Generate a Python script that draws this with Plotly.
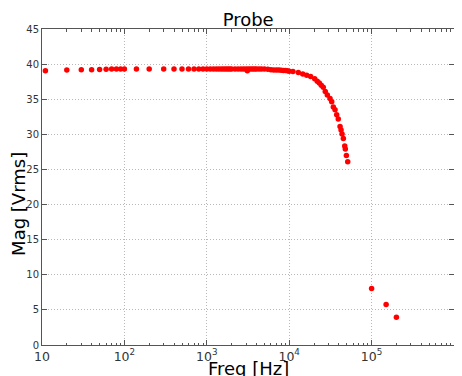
import plotly.graph_objects as go

freq_hz = [11, 20, 30, 40, 50, 60, 70, 80, 90, 100, 140, 200, 300, 400, 500, 600, 700, 800, 900,
           1000, 1100, 1200, 1300, 1400, 1500, 1600, 1700, 1800, 1900, 2000, 2200, 2400, 2600, 2800,
           3000, 3100, 3200, 3400, 3600, 3800, 4000, 4300, 4600, 5000, 5500, 6000, 6500, 7000, 7500,
           8000, 8500, 9000, 9500, 10000,
           11100, 12900, 14600, 16300, 18200, 20400, 21900, 23200, 24500, 25900, 27400, 29000,
           31300, 32800, 34300, 36000, 37700, 39400, 41400, 42600, 43800, 45400, 47200, 48000,
           49400, 51300,
           100000, 150000, 200000]
mag_vrms = [39.05, 39.15, 39.2, 39.2, 39.22, 39.28, 39.3, 39.3, 39.3, 39.3, 39.3, 39.3, 39.3, 39.3, 39.3, 39.3, 39.3, 39.3, 39.3,
            39.3, 39.3, 39.3, 39.3, 39.3, 39.3, 39.3, 39.3, 39.3, 39.3, 39.3, 39.3, 39.3, 39.3, 39.3,
            39.3, 39.05, 39.3, 39.3, 39.3, 39.3, 39.3, 39.3, 39.3, 39.3, 39.28, 39.2, 39.15, 39.15, 39.15,
            39.12, 39.1, 39.1, 39.05, 39.0,
            38.95, 38.8, 38.6, 38.4, 38.25, 37.9, 37.55, 37.3, 37.0, 36.7, 36.1, 35.6,
            35.1, 34.65, 33.9, 33.5, 32.8, 32.2, 31.1, 30.6, 30.05, 29.4, 28.35, 27.9,
            27.0, 26.1,
            8.05, 5.75, 3.95]

y_ticks = [0, 5, 10, 15, 20, 25, 30, 35, 40, 45]

fig = go.Figure()
fig.add_trace(go.Scatter(
    x=freq_hz, y=mag_vrms, mode="markers",
    marker=dict(color="#ff0000", size=5.5, line=dict(width=0)),
    showlegend=False, cliponaxis=False,
))

axis_common = dict(
    showline=True, linecolor="#555555", linewidth=1, mirror="ticks",
    ticks="inside", ticklen=5, tickcolor="#555555", tickwidth=1,
    showgrid=True, gridcolor="#b8b8b8", griddash="1px,2px", gridwidth=1,
    zeroline=False, automargin=False,
    tickfont=dict(family="DejaVu Sans", size=10, color="#333333"),
)

fig.update_xaxes(
    type="log", range=[1, 6], dtick=1, exponentformat="power",
    minor=dict(ticks="inside", ticklen=2.5, tickcolor="#555555", showgrid=False),
    **axis_common,
)
fig.update_yaxes(range=[0, 45], tickvals=y_ticks, **axis_common)

label_font = dict(family="DejaVu Sans", size=18, color="#000000")
fig.add_annotation(text="Freq [Hz]", xref="paper", yref="paper", x=0.5, y=-0.035,
                   xanchor="center", yanchor="top", showarrow=False, font=label_font)
fig.add_annotation(text="Mag [Vrms]", xref="paper", yref="paper", x=-0.057, y=0.445,
                   xanchor="center", yanchor="middle", textangle=-90, showarrow=False,
                   borderpad=0, font=label_font)

# The page body has an 8px margin, so the figure is sized to end at the window's edges.
fig.update_layout(
    width=454, height=368,
    margin=dict(l=34, r=8, t=21, b=31, autoexpand=False),
    paper_bgcolor="white", plot_bgcolor="white",
    title=dict(text="Probe", x=0.529, xanchor="center", y=0.967, yanchor="middle",
               font=dict(family="DejaVu Sans", size=18, color="#000000"), automargin=False),
)

fig.write_html("out.html")
